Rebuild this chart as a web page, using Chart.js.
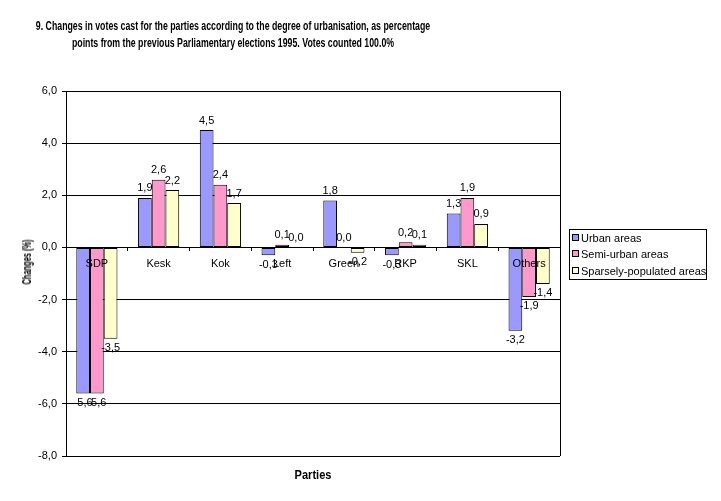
<!DOCTYPE html>
<html>
<head>
<meta charset="utf-8">
<script src="https://cdn.jsdelivr.net/npm/chart.js@4.4.1/dist/chart.umd.min.js"></script>
<style>
  body { margin: 0; background: #fff; }
  #wrap { position: relative; width: 721px; height: 501px; overflow: hidden; }
  #chart { position: absolute; left: 0; top: 0; }
  .ttl { position: absolute; font-family: Arial, "Liberation Sans", sans-serif; font-weight: bold; color: #000; white-space: nowrap; }
  #title { left: 233px; top: 18px; font-size: 12px; line-height: 17px; text-align: center; transform: translateX(-50%) scaleX(0.73); }
  #ytitle { left: 27px; top: 262px; font-size: 12px; transform: translate(-50%, -50%) rotate(-90deg) scaleX(0.62); }
  #xtitle { left: 313px; top: 475px; font-size: 12px; transform: translate(-50%, -50%) scaleX(0.92); }
  #legend { position: absolute; left: 569px; top: 229px; width: 136px; height: 49px; border: 1px solid #000; font-family: Arial, "Liberation Sans", sans-serif; font-size: 11px; }
  #legend div { height: 17px; line-height: 17px; padding-left: 2px; white-space: nowrap; }
  #legend div:first-child { height: 16px; line-height: 16px; }
  #legend span { display: inline-block; width: 5px; height: 5px; border: 1px solid #000; margin-right: 2px; vertical-align: 1px; }
</style>
</head>
<body>
<div id="wrap">
  <canvas id="chart" width="721" height="501"></canvas>
  <div id="title" class="ttl">9. Changes in votes cast for the parties according to the degree of urbanisation, as percentage<br>points from the previous Parliamentary elections 1995. Votes counted 100.0%</div>
  <div id="ytitle" class="ttl">Changes (%)</div>
  <div id="xtitle" class="ttl">Parties</div>
  <div id="legend"></div>
</div>
<script>
const parties = ['SDP', 'Kesk', 'Kok', 'Left', 'Green', 'RKP', 'SKL', 'Others'];
const seriesNames = ['Urban areas', 'Semi-urban areas', 'Sparsely-populated areas'];
const urban = [-5.6, 1.9, 4.5, -0.3, 1.8, -0.3, 1.3, -3.2];
const semiUrban = [-5.6, 2.6, 2.4, 0.1, 0.0, 0.2, 1.9, -1.9];
const sparse = [-3.5, 2.2, 1.7, 0.0, -0.2, 0.1, 0.9, -1.4];
const colors = ['#9999FF', '#FF99CC', '#FFFFCC'];

const fmt = v => v.toFixed(1).replace('.', ',');

// legend
const legend = document.getElementById('legend');
seriesNames.forEach((n, i) => {
  legend.innerHTML += '<div><span style="background:' + colors[i] + '"></span>' + n + '</div>';
});

// value labels above / below each bar
const valueLabels = {
  id: 'valueLabels',
  afterDatasetsDraw(chart) {
    const ctx = chart.ctx;
    ctx.save();
    ctx.font = '11px Arial, "Liberation Sans", sans-serif';
    ctx.fillStyle = '#000';
    ctx.textAlign = 'center';
    chart.data.datasets.forEach((ds, di) => {
      chart.getDatasetMeta(di).data.forEach((bar, i) => {
        const v = ds.data[i];
        if (v >= 0) {
          ctx.textBaseline = 'bottom';
          ctx.fillText(fmt(v), bar.x, bar.y - 4);
        } else {
          ctx.textBaseline = 'top';
          ctx.fillText(fmt(v), bar.x, bar.y + 4);
        }
      });
    });
    ctx.restore();
  }
};

// right edge of the plot area
const frame = {
  id: 'frame',
  afterDraw(chart) {
    const a = chart.chartArea, ctx = chart.ctx;
    ctx.save();
    ctx.strokeStyle = '#000';
    ctx.lineWidth = 1;
    ctx.beginPath();
    ctx.moveTo(Math.round(a.right) + 0.5, a.top);
    ctx.lineTo(Math.round(a.right) + 0.5, a.bottom);
    ctx.stroke();
    ctx.restore();
  }
};

new Chart(document.getElementById('chart'), {
  type: 'bar',
  data: {
    labels: parties,
    datasets: [
      { label: seriesNames[0], data: urban, backgroundColor: colors[0] },
      { label: seriesNames[1], data: semiUrban, backgroundColor: colors[1] },
      { label: seriesNames[2], data: sparse, backgroundColor: colors[2] }
    ].map(d => Object.assign(d, { borderColor: '#000', borderWidth: 1, borderSkipped: false }))
  },
  options: {
    responsive: false,
    animation: false,
    categoryPercentage: 0.667,
    barPercentage: 1,
    layout: { padding: { left: 0, top: 91, right: 161, bottom: 45 } },
    plugins: {
      legend: { display: false },
      tooltip: { enabled: false }
    },
    scales: {
      x: {
        position: { y: 0 },
        grid: { display: true, drawOnChartArea: false, offset: true, tickLength: 4, color: '#000' },
        border: { display: false },
        ticks: { z: 1, color: '#000', padding: 6, font: { family: 'Arial, "Liberation Sans", sans-serif', size: 11 } }
      },
      y: {
        min: -8,
        max: 6,
        afterFit(scale) { scale.width = 66; },
        grid: { color: '#000', tickLength: 4 },
        border: { color: '#000' },
        ticks: {
          stepSize: 2,
          color: '#000',
          padding: 5,
          font: { family: 'Arial, "Liberation Sans", sans-serif', size: 11 },
          callback: v => fmt(v)
        }
      }
    }
  },
  plugins: [valueLabels, frame]
});
</script>
</body>
</html>
